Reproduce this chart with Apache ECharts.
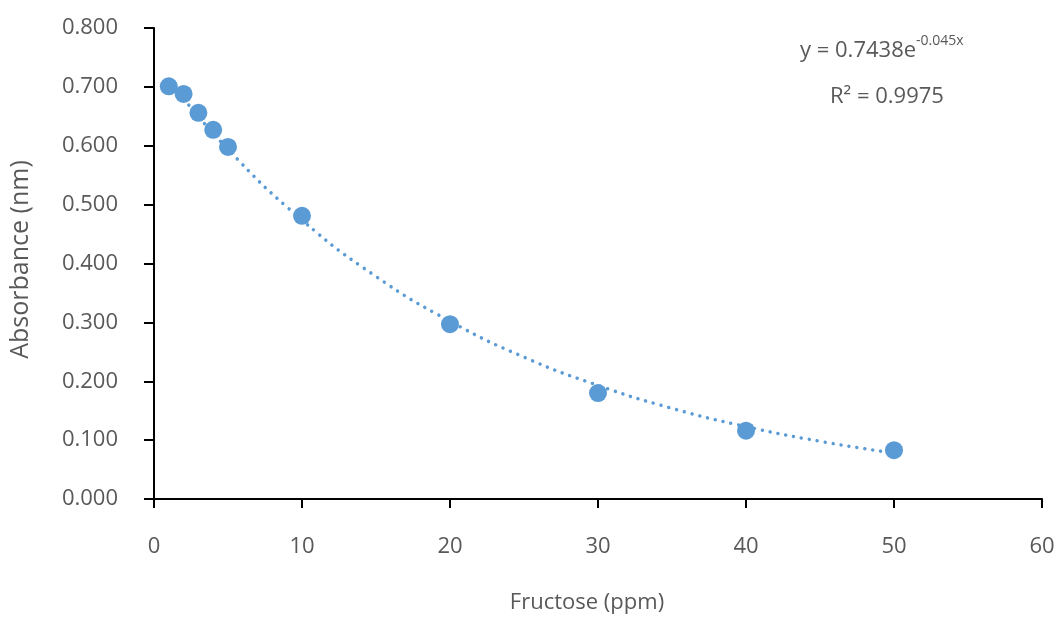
<!DOCTYPE html>
<html>
<head>
<meta charset="utf-8">
<script src="https://cdn.jsdelivr.net/npm/echarts@6/dist/echarts.min.js"></script>
<style>
html, body { margin: 0; padding: 0; background: #fff; }
#main { width: 1064px; height: 624px; }
</style>
</head>
<body>
<div id="main"></div>
<script>
// measured standards
var fructose = [1, 2, 3, 4, 5, 10, 20, 30, 40, 50];
var absorbance = [0.701, 0.688, 0.656, 0.627, 0.598, 0.481, 0.297, 0.180, 0.116, 0.083];

// dotted exponential trendline
var trendX = [1, 5, 10, 15, 20, 25, 30, 35, 40, 45, 50];
var trendY = [0.711, 0.594, 0.474, 0.378, 0.302, 0.241, 0.193, 0.154, 0.123, 0.098, 0.078];

var equationText = 'y = 0.7438e';
var equationExp = '-0.045x';
var r2Text = 'R² = 0.9975';

var dom = document.getElementById("main");
var myChart = echarts.init(dom);
var option = null;

var blue = '#5B9BD5';
var textColor = '#595959';
var font = '"Open Sans", "Noto Sans", sans-serif';
var fs = 22;

var points = fructose.map(function (x, i) { return [x, absorbance[i]]; });
var trend = trendX.map(function (x, i) { return [x, trendY[i]]; });

option = {
    animation: false,
    textStyle: { fontFamily: font },
    grid: {
        left: 154,
        right: 22,
        top: 28,
        bottom: 125
    },
    xAxis: {
        type: 'value',
        min: 0,
        max: 60,
        interval: 10,
        name: 'Fructose (ppm)',
        nameLocation: 'middle',
        nameGap: 93,
        nameTextStyle: { color: textColor, fontSize: fs, fontFamily: font, padding: [0, 22, 0, 0] },
        splitLine: { show: false },
        axisLine: { show: true, onZero: false, lineStyle: { color: '#000', width: 2 } },
        axisTick: { show: true, length: 9, lineStyle: { color: '#000', width: 2 } },
        axisLabel: { color: textColor, fontSize: fs, margin: 37, fontFamily: font }
    },
    yAxis: {
        type: 'value',
        min: 0,
        max: 0.8,
        interval: 0.1,
        name: 'Absorbance (nm)',
        nameLocation: 'middle',
        nameGap: 121,
        nameTextStyle: { color: textColor, fontSize: 25, fontFamily: font, padding: [0, 0, 0, 8] },
        splitLine: { show: false },
        axisLine: { show: true, lineStyle: { color: '#000', width: 2 } },
        axisTick: { show: true, length: 10, lineStyle: { color: '#000', width: 2 } },
        axisLabel: {
            color: textColor,
            fontSize: fs,
            margin: 36,
            fontFamily: font,
            formatter: function (v) { return v.toFixed(3); }
        }
    },
    graphic: [
        {
            type: 'text',
            left: 800,
            top: 34,
            style: {
                text: '{a|' + equationText + '}{b|' + equationExp + '}',
                rich: {
                    a: { fontSize: fs, fill: textColor, fontFamily: font, verticalAlign: 'bottom' },
                    b: { fontSize: 14, fill: textColor, fontFamily: font, verticalAlign: 'top', padding: [0, 0, 14, 0] }
                }
            }
        },
        {
            type: 'text',
            left: 830,
            top: 86,
            style: { text: r2Text, fontSize: fs, fill: textColor, fontFamily: font }
        }
    ],
    series: [
        {
            name: 'trend',
            type: 'line',
            data: trend,
            smooth: true,
            showSymbol: false,
            silent: true,
            z: 1,
            lineStyle: { color: blue, width: 3.5, type: [0.01, 8], cap: 'round' }
        },
        {
            name: 'Absorbance',
            type: 'scatter',
            data: points,
            symbolSize: 18,
            z: 2,
            itemStyle: { color: blue, opacity: 1 }
        }
    ]
};

if (option && typeof option === "object") {
    myChart.setOption(option, true);
}
</script>
</body>
</html>
